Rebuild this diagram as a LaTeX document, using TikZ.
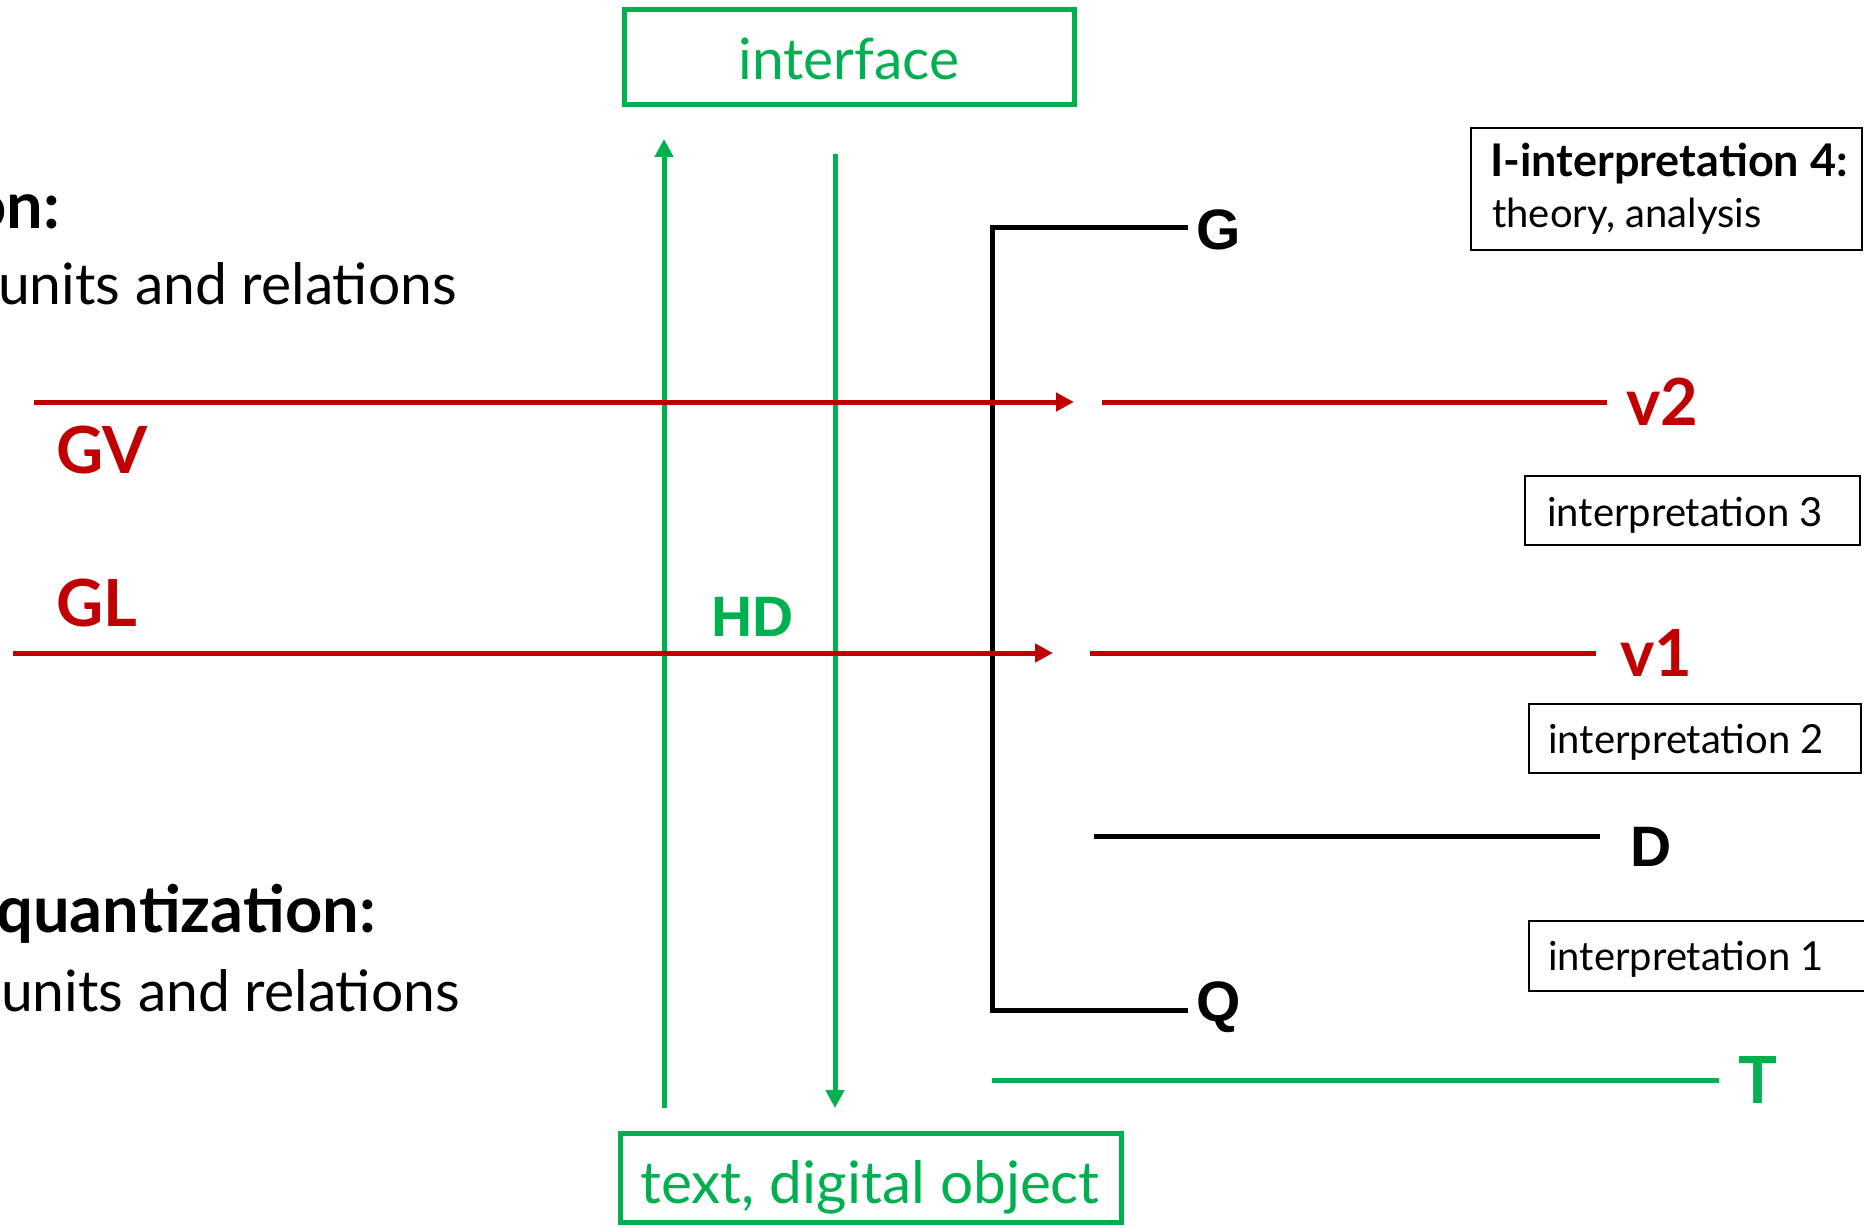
\documentclass[tikz,border=0pt]{standalone}
\usepackage{fontspec}
\setmainfont{Lato}
\newfontfamily\arialfont{Liberation Sans}
\usetikzlibrary{arrows.meta}
\definecolor{myred}{HTML}{C00000}
\definecolor{mygreen}{HTML}{00B050}
\tikzset{
  redline/.style={draw=myred, line width=5pt},
  greenline/.style={draw=mygreen, line width=5pt},
  blackline/.style={draw=black, line width=5pt},
  tipA/.style={-{Triangle[length=18pt,width=18pt]}},
  greenbox/.style={draw=mygreen, line width=5pt, rectangle, inner sep=0pt},
  thinbox/.style={draw=black, line width=2pt, rectangle, inner sep=0pt},
  bigtext/.style={inner sep=0pt, font=\fontsize{57}{60}\selectfont},
  objtext/.style={inner sep=0pt, font=\fontsize{58.5}{62}\selectfont},
  bigbold/.style={inner sep=0pt, font=\bfseries\fontsize{65}{68}\selectfont},
  boxtext/.style={inner sep=0pt, font=\fontsize{40}{44}\selectfont},
  boxbold/.style={inner sep=0pt, font=\bfseries\fontsize{45}{48}\selectfont},
  alabel/.style={inner sep=0pt, font=\arialfont\bfseries\fontsize{57}{60}\selectfont},
  glabel/.style={inner sep=0pt, font=\bfseries\fontsize{65}{68}\selectfont},
}
\begin{document}
\begin{tikzpicture}[x=1pt, y=-1pt]
\useasboundingbox (0,0) rectangle (1864,1228);

% left texts
\node[bigbold, anchor=base east] (t1) at (60,228) {on:};
\node[bigtext, anchor=base east] (t2) at (457,304) {units and relations};
\node[bigbold, anchor=base east] (t3) at (376,932) {quantization:};
\node[bigtext, anchor=base east] (t4) at (460,1011) {units and relations};

% green boxes
\node[greenbox, minimum width=450pt, minimum height=95pt] (ifaceBox) at (849.5,57) {};
\node[bigtext, text=mygreen, anchor=base] (iface) at (849,80) {interface};
\node[greenbox, minimum width=501pt, minimum height=89pt] (objBox) at (871,1178) {};
\node[objtext, text=mygreen, anchor=base] (obj) at (870,1203) {text, digital object};

% green vertical arrows
\coordinate (upS) at (664,1108);
\coordinate (upE) at (664,139);
\coordinate (dnS) at (835,154);
\coordinate (dnE) at (835,1108);
\draw[greenline, tipA, fill=mygreen] (upS) -- (upE);
\draw[greenline, tipA, fill=mygreen] (dnS) -- (dnE);

% black bracket
\coordinate (gEnd) at (1188,227);
\coordinate (bTop) at (992,227);
\coordinate (bBot) at (992,1010);
\coordinate (qEnd) at (1188,1010);
\draw[blackline, line join=miter] (gEnd) -- (bTop) -- (bBot) -- (qEnd);

% red lines
\coordinate (gvS) at (34,402);
\coordinate (gvE) at (1074,402);
\coordinate (v2S) at (1102,402);
\coordinate (v2E) at (1607,402);
\draw[redline, tipA, fill=myred] (gvS) -- (gvE);
\draw[redline] (v2S) -- (v2E);
\coordinate (glS) at (13,653);
\coordinate (glE) at (1053,653);
\coordinate (v1S) at (1090,653);
\coordinate (v1E) at (1596,653);
\draw[redline, tipA, fill=myred] (glS) -- (glE);
\draw[redline] (v1S) -- (v1E);

% D and T lines
\coordinate (dS) at (1094,836);
\coordinate (dE) at (1600,836);
\draw[blackline] (dS) -- (dE);
\coordinate (tS) at (992,1080);
\coordinate (tE) at (1719,1080);
\draw[greenline] (tS) -- (tE);

% labels
\node[alabel, anchor=base west] (G) at (1196,249) {G};
\node[alabel, anchor=base west] (Q) at (1196,1021) {Q};
\node[alabel, anchor=base west] (D) at (1630,866) {D};
\node[alabel, text=mygreen, anchor=base west] (HD) at (711,636) {HD};
\node[glabel, text=myred, anchor=base west] (GV) at (56,473) {GV};
\node[glabel, text=myred, anchor=base west] (GL) at (56,626) {GL};
\node[glabel, text=myred, anchor=base west] (v2) at (1626,425) {v2};
\node[glabel, text=myred, anchor=base west] (v1) at (1620,676) {v1};
\node[glabel, text=mygreen, anchor=base west] (T) at (1738,1103) {T};

% right boxes
\node[thinbox, minimum width=391pt, minimum height=122pt] (i4Box) at (1666.5,189) {};
\node[boxbold, anchor=base west] (i4a) at (1490,176) {I-interpretation 4:};
\node[boxtext, anchor=base west] (i4b) at (1492,227) {theory, analysis};
\node[thinbox, minimum width=335pt, minimum height=69pt] (i3Box) at (1692.5,510.5) {};
\node[boxtext, anchor=base west] (i3) at (1547,526) {interpretation 3};
\node[thinbox, minimum width=332pt, minimum height=69pt] (i2Box) at (1695,738.5) {};
\node[boxtext, anchor=base west] (i2) at (1548,753) {interpretation 2};
\node[thinbox, minimum width=351pt, minimum height=70pt] (i1Box) at (1704.5,956) {};
\node[boxtext, anchor=base west] (i1) at (1548,970) {interpretation 1};
\end{tikzpicture}
\end{document}
